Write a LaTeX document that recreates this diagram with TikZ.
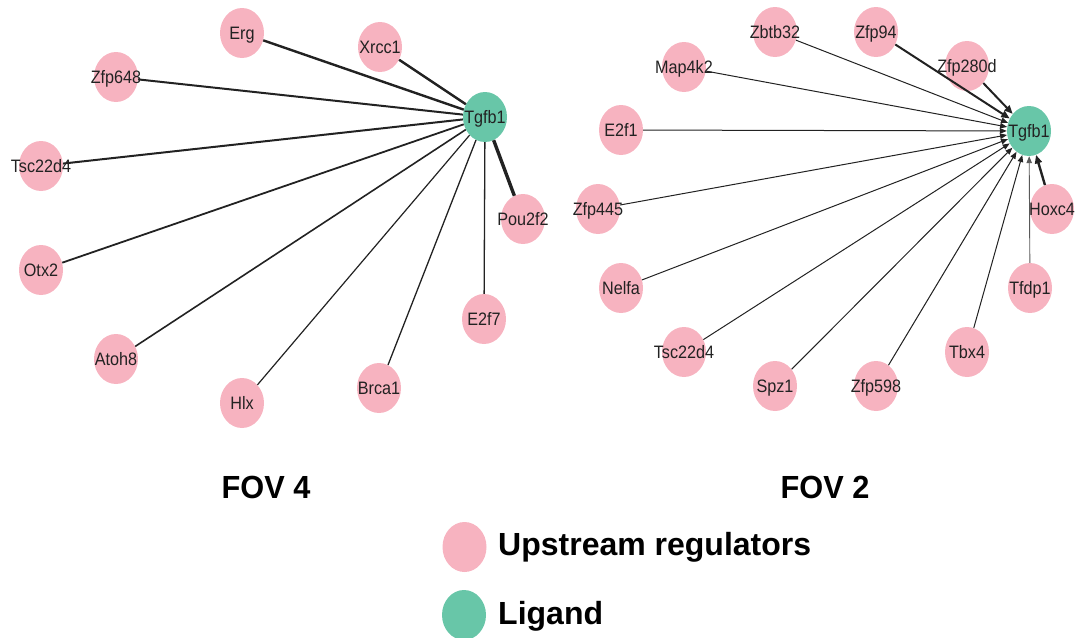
\documentclass[tikz,border=0pt]{standalone}
\usepackage{fontspec}
\setmainfont{Liberation Sans}
\usetikzlibrary{shapes.geometric,arrows.meta}

\definecolor{regpink}{RGB}{247,179,192}
\definecolor{ligreen}{RGB}{104,198,168}
\definecolor{ink}{RGB}{34,34,34}

% gene label: narrow, zero width so the ellipse keeps its fixed size
\newcommand{\genelabel}[1]{\makebox[0pt][c]{\scalebox{0.9}[1]{#1}}}

\begin{document}
\begin{tikzpicture}[x=1pt,y=-1pt,
  gene/.style={ellipse, draw=none, minimum width=44pt, minimum height=50pt,
    inner sep=0pt, text height=12.9pt, text depth=0pt,
    font=\fontsize{18}{18}\selectfont, text=ink},
  reg/.style={gene, fill=regpink},
  lig/.style={gene, fill=ligreen},
  link/.style={draw=ink, line width=#1},
  arr/.style={draw=ink, line width=#1, -{Triangle[length=7pt,width=5.5pt]}},
  bigarr/.style={draw=ink, line width=#1, -{Triangle[length=8.5pt,width=7pt]}},
  title/.style={anchor=base, inner sep=0pt, font=\fontsize{32}{32}\selectfont\bfseries, text=black},
  legtext/.style={anchor=base west, inner sep=0pt, font=\fontsize{32}{32}\selectfont\bfseries, text=black}
]
\useasboundingbox (0,0) rectangle (1075,637);

% ---------------- FOV 4 ----------------
\node[lig] (tgfL) at (485,117) {\genelabel{Tgfb1}};
\node[reg] (ergL)  at (242,33)  {\genelabel{Erg}};
\node[reg] (xrcL)  at (380,47)  {\genelabel{Xrcc1}};
\node[reg] (zfp648) at (116,77) {\genelabel{Zfp648}};
\node[reg] (tscL)  at (41,166)  {\genelabel{Tsc22d4}};
\node[reg] (otx2)  at (41,270)  {\genelabel{Otx2}};
\node[reg] (atoh8) at (116,359) {\genelabel{Atoh8}};
\node[reg] (hlx)   at (242,403) {\genelabel{Hlx}};
\node[reg] (brca1) at (379,388) {\genelabel{Brca1}};
\node[reg] (e2f7)  at (484,319) {\genelabel{E2f7}};
\node[reg] (pou2f2) at (523,219) {\genelabel{Pou2f2}};

\draw[link=2.4pt] (ergL) -- (tgfL);
\draw[link=2.4pt] (xrcL) -- (tgfL);
\draw[link=2pt] (zfp648) -- (tgfL);
\draw[link=2pt] (tscL) -- (tgfL);
\draw[link=1.8pt] (otx2) -- (tgfL);
\draw[link=1.6pt] (atoh8) -- (tgfL);
\draw[link=1.2pt] (hlx) -- (tgfL);
\draw[link=1.3pt] (brca1) -- (tgfL);
\draw[link=1.3pt] (e2f7) -- (tgfL);
\draw[link=3.4pt] (pou2f2) -- (tgfL);

% ---------------- FOV 2 ----------------
\node[lig] (tgfR) at (1029,131) {\genelabel{Tgfb1}};
\node[reg] (zbtb32) at (775,32)  {\genelabel{Zbtb32}};
\node[reg] (zfp94)  at (876,32)  {\genelabel{Zfp94}};
\node[reg] (zfp280d) at (967,66) {\genelabel{Zfp280d}};
\node[reg] (map4k2) at (684,67)  {\genelabel{Map4k2}};
\node[reg] (e2f1)   at (621,130) {\genelabel{E2f1}};
\node[reg] (zfp445) at (598,209) {\genelabel{Zfp445}};
\node[reg] (nelfa)  at (621,288) {\genelabel{Nelfa}};
\node[reg] (tscR)   at (684,352) {\genelabel{Tsc22d4}};
\node[reg] (spz1)   at (775,386) {\genelabel{Spz1}};
\node[reg] (zfp598) at (876,386) {\genelabel{Zfp598}};
\node[reg] (tbx4)   at (967,352) {\genelabel{Tbx4}};
\node[reg] (tfdp1)  at (1030,288) {\genelabel{Tfdp1}};
\node[reg] (hoxc4)  at (1052,209) {\genelabel{Hoxc4}};

\draw[arr=1pt] (zbtb32) -- (tgfR);
\draw[bigarr=2pt] (zfp94) -- (tgfR);
\draw[bigarr=2pt] (zfp280d) -- (tgfR);
\draw[arr=1pt] (map4k2) -- (tgfR);
\draw[arr=1pt] (e2f1) -- (tgfR);
\draw[arr=1pt] (zfp445) -- (tgfR);
\draw[arr=1pt] (nelfa) -- (tgfR);
\draw[arr=1pt] (tscR) -- (tgfR);
\draw[arr=1pt] (spz1) -- (tgfR);
\draw[arr=1pt] (zfp598) -- (tgfR);
\draw[arr=1pt] (tbx4) -- (tgfR);
\draw[arr=0.9pt, draw=ink!75] (tfdp1) -- (tgfR);
\draw[bigarr=2.4pt] (hoxc4) -- (tgfR);

% ---------------- titles ----------------
\node[title] (fov4) at (266,498) {\scalebox{0.96}[1]{FOV 4}};
\node[title] (fov2) at (825,498) {\scalebox{0.96}[1]{FOV 2}};

% ---------------- legend ----------------
\node[reg] (legreg) at (464.5,547) {};
\node[legtext] (legregtxt) at (498,555) {Upstream regulators};
\node[lig] (leglig) at (464,615) {};
\node[legtext] (legligtxt) at (498,624) {Ligand};
\end{tikzpicture}
\end{document}
